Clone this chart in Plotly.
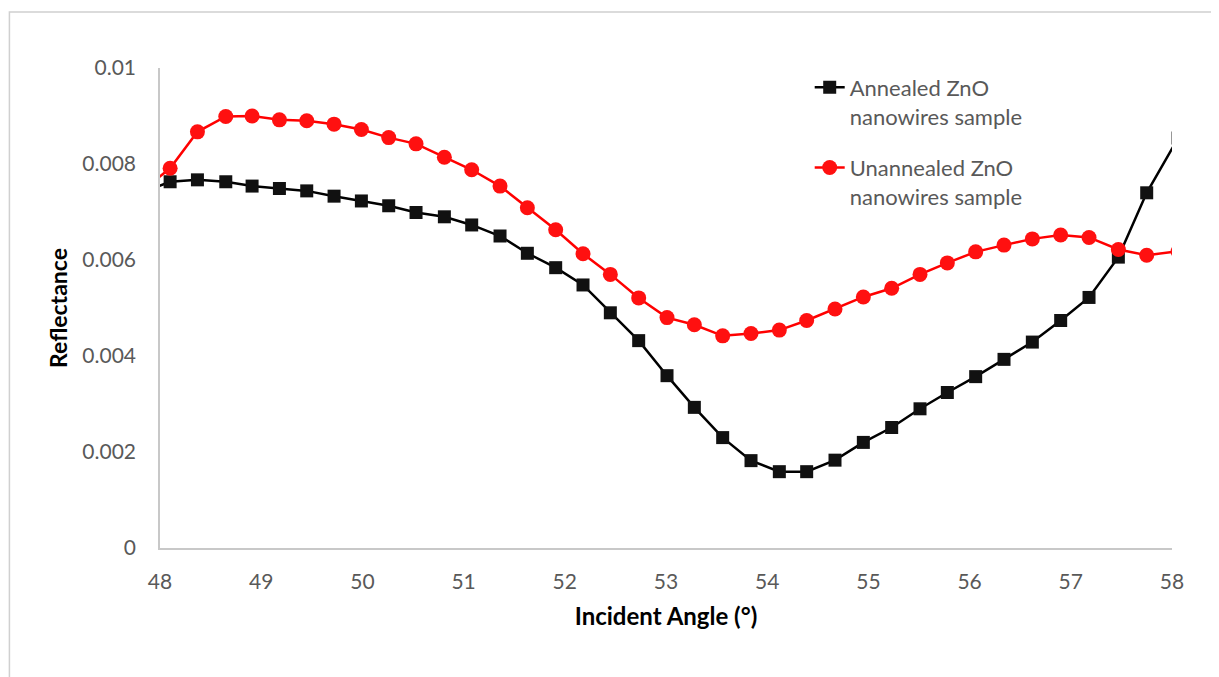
import plotly.graph_objects as go

# Incident angle (degrees) — first and last points lie just outside the axis range (clipped, as in the original)
angle = [47.83, 48.10, 48.37, 48.65, 48.91, 49.18, 49.45, 49.72, 49.99, 50.26,
         50.53, 50.81, 51.08, 51.36, 51.63, 51.91, 52.18, 52.45, 52.73, 53.01,
         53.28, 53.56, 53.84, 54.12, 54.39, 54.67, 54.95, 55.23, 55.51, 55.78,
         56.06, 56.34, 56.62, 56.90, 57.18, 57.47, 57.75, 58.06]

annealed = [0.00741, 0.00763, 0.00767, 0.00763, 0.00754, 0.00749, 0.00744, 0.00733,
            0.00723, 0.00713, 0.00699, 0.00690, 0.00673, 0.00650, 0.00614, 0.00584,
            0.00548, 0.00490, 0.00432, 0.00359, 0.00293, 0.00230, 0.00182, 0.00159,
            0.00159, 0.00183, 0.00220, 0.00251, 0.00290, 0.00324, 0.00357, 0.00393,
            0.00429, 0.00474, 0.00522, 0.00606, 0.00740, 0.00854]

unannealed = [0.00746, 0.00791, 0.00867, 0.00899, 0.00900, 0.00892, 0.00890, 0.00883,
              0.00872, 0.00855, 0.00842, 0.00814, 0.00788, 0.00754, 0.00709, 0.00663,
              0.00613, 0.00570, 0.00521, 0.00480, 0.00465, 0.00442, 0.00447, 0.00454,
              0.00474, 0.00498, 0.00523, 0.00541, 0.00570, 0.00594, 0.00617, 0.00631,
              0.00644, 0.00652, 0.00647, 0.00622, 0.00610, 0.00618]

series_names = ["Annealed ZnO<br>nanowires sample", "Unannealed ZnO<br>nanowires sample"]
x_ticks = [48, 49, 50, 51, 52, 53, 54, 55, 56, 57, 58]
y_ticks = [0, 0.002, 0.004, 0.006, 0.008, 0.01]
y_tick_text = ["0", "0.002", "0.004", "0.006", "0.008", "0.01"]

FONT = "Lato"
GRAY = "#595959"

fig = go.Figure()
fig.add_trace(go.Scatter(
    x=angle, y=annealed, name=series_names[0], mode="lines+markers",
    legendgroup="a",
    line=dict(color="#000000", width=2.5),
    marker=dict(symbol="square", size=13, color="#111111"),
))
fig.add_trace(go.Scatter(
    x=angle, y=unannealed, name=series_names[1], mode="lines+markers",
    legendgroup="b",
    line=dict(color="#FF0000", width=2.5),
    marker=dict(symbol="circle", size=15, color="#FF1010"),
))

fig.update_layout(
    width=1211, height=669,
    margin=dict(l=152, r=47, t=60, b=129),
    paper_bgcolor="white", plot_bgcolor="white",
    font=dict(family=FONT, size=21, color=GRAY),
    showlegend=True,
    legend=dict(
        x=0.642, y=1.003, xanchor="left", yanchor="top",
        font=dict(family=FONT, size=22, color=GRAY),
        bgcolor="rgba(0,0,0,0)", traceorder="grouped", tracegroupgap=20,
        valign="top",
    ),
    shapes=[dict(type="rect", xref="paper", yref="paper",
                 x0=-0.1488, x1=1.0455, y0=-0.35, y1=1.1167,
                 line=dict(color="#d0d0d0", width=1.5), layer="below")],
)

fig.update_xaxes(
    range=[48, 58], tickvals=x_ticks, ticks="", showgrid=False, zeroline=False,
    showline=True, linecolor="#c8c8c8", linewidth=1.5,
    tickfont=dict(family=FONT, size=21, color=GRAY), ticklabelstandoff=14,
    title=dict(text="<b>Incident Angle (°)</b>", standoff=16,
               font=dict(family=FONT, size=24, color="#000000")),
)
fig.update_yaxes(
    range=[0, 0.01], tickvals=y_ticks, ticktext=y_tick_text, ticks="",
    showgrid=False, zeroline=False,
    showline=True, linecolor="#c8c8c8", linewidth=1.5,
    tickfont=dict(family=FONT, size=21, color=GRAY), ticklabelstandoff=18,
    title=dict(text="<b>Reflectance</b>", standoff=8,
               font=dict(family=FONT, size=23, color="#000000")),
)

fig.write_html("out.html")
